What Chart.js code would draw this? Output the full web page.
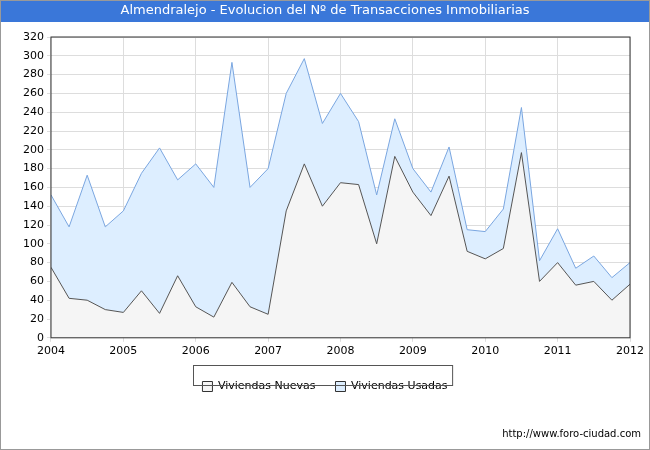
<!DOCTYPE html>
<html><head><meta charset="utf-8">
<script src="https://cdn.jsdelivr.net/npm/chart.js@4/dist/chart.umd.min.js"></script>
<style>body{margin:0;background:#fff}#wrap{width:650px;height:450px;position:relative}</style>
</head><body><div id="wrap"><canvas id="c" width="650" height="450"></canvas></div>
<script>
const years = [2004, 2005, 2006, 2007, 2008, 2009, 2010, 2011, 2012];
const nuevas = [75, 42, 40, 30, 27, 50, 26, 66, 33, 22, 59, 33, 25, 135, 185, 140, 165, 163, 100, 193, 155, 130, 172, 92, 84, 95, 197, 60, 80, 56, 60, 40, 57];
const usadas = [152, 118, 173, 118, 135, 175, 202, 168, 185, 160, 293, 160, 180, 260, 297, 228, 260, 230, 152, 233, 180, 155, 203, 115, 113, 137, 245, 82, 116, 74, 87, 64, 80];
const toPts = arr => arr.map((v, i) => ({x: 2004 + i / 4, y: v}));

const frame = {
  id: 'frame',
  beforeDraw(chart) {
    const c = chart.ctx;
    c.save();
    c.fillStyle = '#3a77d9';
    c.fillRect(0, 0, 650, 22);
    c.fillStyle = '#fff';
    c.font = '13px Verdana, "DejaVu Sans", sans-serif';
    c.textAlign = 'center';
    c.textBaseline = 'middle';
    c.fillText('Almendralejo - Evolucion del Nº de Transacciones Inmobiliarias', 325, 11);
    c.fillStyle = '#000';
    c.font = '10px Verdana, "DejaVu Sans", sans-serif';
    c.textAlign = 'right';
    c.fillText('http://www.foro-ciudad.com', 641, 434);
    c.strokeStyle = '#999';
    c.strokeRect(0.5, 0.5, 649, 449);
    c.restore();
  },
  afterDraw(chart) {
    const c = chart.ctx, a = chart.chartArea, l = chart.legend;
    c.save();
    c.strokeStyle = '#333';
    c.strokeRect(a.left, a.top, a.right - a.left, a.bottom - a.top);
    c.strokeStyle = '#555';
    c.strokeRect(Math.round(l.legendHitBoxes[0].left) - 8.5, l.top + 4.5, l.legendHitBoxes[1].left + l.legendHitBoxes[1].width - l.legendHitBoxes[0].left + 14, 20);
    c.restore();
  }
};

new Chart(document.getElementById('c'), {
  type: 'line',
  data: {
    datasets: [
      {label: 'Viviendas Nuevas', data: toPts(nuevas), borderColor: '#555', borderWidth: 1,
       backgroundColor: '#f5f5f5', fill: 'origin', pointRadius: 0, tension: 0},
      {label: 'Viviendas Usadas', data: toPts(usadas), borderColor: '#7aa6e0', borderWidth: 1,
       backgroundColor: '#ddeeff', fill: '-1', pointRadius: 0, tension: 0}
    ]
  },
  options: {
    responsive: false, animation: false,
    layout: {padding: {top: 37, left: 20, right: 20, bottom: 48}},
    scales: {
      x: {type: 'linear', min: 2004, max: 2012,
          afterBuildTicks: ax => { ax.ticks = years.map(v => ({value: v})); },
          ticks: {color: '#000', font: {family: 'Verdana, "DejaVu Sans"', size: 11}, callback: v => String(v), maxRotation: 0},
          grid: {color: '#ddd', drawTicks: true, tickLength: 4}, border: {display: false}},
      y: {min: 0, max: 320,
          ticks: {stepSize: 20, color: '#000', font: {family: 'Verdana, "DejaVu Sans"', size: 11}},
          grid: {color: '#ddd', tickLength: 4}, border: {display: false}}
    },
    plugins: {
      legend: {position: 'bottom',
        labels: {boxWidth: 10, boxHeight: 10, color: '#000', padding: 20,
                 font: {family: 'Verdana, "DejaVu Sans"', size: 11},
                 generateLabels: ch => ch.data.datasets.map((d, i) => ({text: d.label, fillStyle: d.backgroundColor, strokeStyle: '#333', lineWidth: 1, datasetIndex: i}))}},
      tooltip: {enabled: false}
    }
  },
  plugins: [frame]
});
</script></body></html>
